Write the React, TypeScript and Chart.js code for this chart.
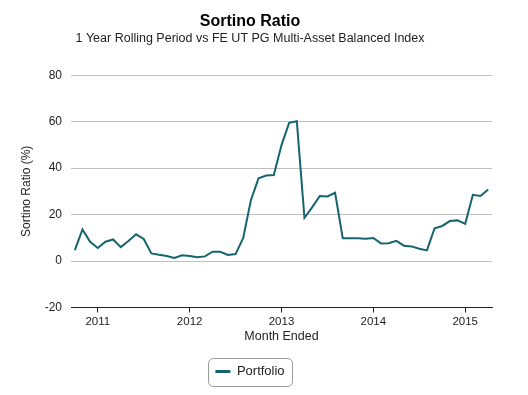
import React, { useEffect, useRef } from "react";
import { Chart, registerables } from "chart.js";

Chart.register(...registerables);

const chartTitle = "Sortino Ratio";
const chartSubtitle = "1 Year Rolling Period vs FE UT PG Multi-Asset Balanced Index";
const yAxisTitle = "Sortino Ratio (%)";
const xAxisTitle = "Month Ended";
const seriesName = "Portfolio";

const months: string[] = [
  "Oct 2010", "Nov 2010", "Dec 2010",
  "Jan 2011", "Feb 2011", "Mar 2011", "Apr 2011", "May 2011", "Jun 2011",
  "Jul 2011", "Aug 2011", "Sep 2011", "Oct 2011", "Nov 2011", "Dec 2011",
  "Jan 2012", "Feb 2012", "Mar 2012", "Apr 2012", "May 2012", "Jun 2012",
  "Jul 2012", "Aug 2012", "Sep 2012", "Oct 2012", "Nov 2012", "Dec 2012",
  "Jan 2013", "Feb 2013", "Mar 2013", "Apr 2013", "May 2013", "Jun 2013",
  "Jul 2013", "Aug 2013", "Sep 2013", "Oct 2013", "Nov 2013", "Dec 2013",
  "Jan 2014", "Feb 2014", "Mar 2014", "Apr 2014", "May 2014", "Jun 2014",
  "Jul 2014", "Aug 2014", "Sep 2014", "Oct 2014", "Nov 2014", "Dec 2014",
  "Jan 2015", "Feb 2015", "Mar 2015", "Apr 2015",
];

const portfolio: number[] = [
  4.7, 13.6, 8.3,
  5.6, 8.3, 9.3, 6.0, 8.6, 11.5, 9.5, 3.3, 2.7, 2.2, 1.3, 2.5,
  2.2, 1.6, 2.0, 4.0, 4.0, 2.6, 3.0, 10.0, 26.2, 35.6, 36.8, 37.0,
  49.9, 59.5, 60.2, 18.6, 23.1, 28.0, 27.8, 29.4, 9.8, 9.8, 9.8, 9.6,
  9.9, 7.6, 7.7, 8.7, 6.6, 6.3, 5.3, 4.6, 14.1, 15.1, 17.2, 17.5,
  16.0, 28.5, 28.0, 30.8,
];

const yMin = -20;
const yMax = 80;
const yStep = 20;

const FONT = "'Liberation Sans', Arial, sans-serif";
const LINE_COLOR = "#16646f";
const TEXT_COLOR = "#222";

const legendBorder = {
  id: "legendBorder",
  afterDraw(chart: any) {
    const legend = chart.legend;
    if (!legend || !legend.legendHitBoxes || !legend.legendHitBoxes.length) return;
    const hb = legend.legendHitBoxes[0];
    const ctx = chart.ctx;
    const x = Math.round(hb.left - 7.5) + 0.5;
    const y = Math.round(hb.top - 7.5) + 0.5;
    const w = Math.round(hb.width + 15);
    const h = Math.round(hb.height + 15);
    const r = 5;
    ctx.save();
    ctx.strokeStyle = "#999";
    ctx.lineWidth = 1;
    ctx.beginPath();
    ctx.moveTo(x + r, y);
    ctx.lineTo(x + w - r, y);
    ctx.arcTo(x + w, y, x + w, y + r, r);
    ctx.lineTo(x + w, y + h - r);
    ctx.arcTo(x + w, y + h, x + w - r, y + h, r);
    ctx.lineTo(x + r, y + h);
    ctx.arcTo(x, y + h, x, y + h - r, r);
    ctx.lineTo(x, y + r);
    ctx.arcTo(x, y, x + r, y, r);
    ctx.closePath();
    ctx.stroke();
    ctx.restore();
  },
};

export default function App() {
  const ref = useRef<HTMLCanvasElement | null>(null);

  useEffect(() => {
    if (!ref.current) return;
    Chart.defaults.font.family = FONT;
    const chart = new Chart(ref.current, {
      type: "line",
      data: {
        labels: months,
        datasets: [
          {
            label: seriesName,
            data: portfolio,
            borderColor: LINE_COLOR,
            backgroundColor: LINE_COLOR,
            borderWidth: 2,
            pointRadius: 0,
            pointHoverRadius: 0,
            tension: 0,
            fill: false,
          },
        ],
      },
      options: {
        responsive: false,
        animation: false,
        layout: { padding: { left: 8, right: 10, top: 0, bottom: 7 } },
        plugins: {
          title: {
            display: true,
            text: chartTitle,
            color: "#000",
            font: { size: 16, weight: "bold", family: FONT },
            padding: { top: 12, bottom: 0 },
          },
          subtitle: {
            display: true,
            text: chartSubtitle,
            color: TEXT_COLOR,
            font: { size: 12.5, family: FONT },
            padding: { top: 0, bottom: 29 },
          },
          legend: {
            display: true,
            position: "bottom",
            labels: {
              color: TEXT_COLOR,
              font: { size: 13, family: FONT },
              usePointStyle: true,
              pointStyle: "line",
              pointStyleWidth: 15,
              padding: 7.5,
              generateLabels(chart: any) {
                const items = Chart.defaults.plugins.legend.labels.generateLabels(chart);
                return items.map((it: any) => ({ ...it, lineWidth: 3, pointStyle: "line", strokeStyle: LINE_COLOR }));
              },
            },
          },
          tooltip: { enabled: false },
        },
        scales: {
          x: {
            type: "category",
            offset: true,
            afterFit(scale: any) {
              scale.height = 50;
            },
            grid: {
              offset: false,
              drawOnChartArea: false,
              drawTicks: true,
              tickLength: 5,
              tickColor: "#222",
            },
            border: { display: true, color: "#222", width: 1 },
            ticks: {
              autoSkip: false,
              maxRotation: 0,
              minRotation: 0,
              padding: 2,
              color: TEXT_COLOR,
              font: { size: 11.5, family: FONT },
              callback(this: any, value: any) {
                const lbl: string = this.getLabelForValue(value);
                if (lbl.startsWith("Jan")) return lbl.slice(4);
                return null;
              },
            },
            title: {
              display: true,
              text: xAxisTitle,
              color: TEXT_COLOR,
              font: { size: 12.5, family: FONT },
              padding: { top: 0, bottom: 13 },
            },
          },
          y: {
            min: yMin,
            max: yMax,
            afterFit(scale: any) {
              scale.width = 63;
            },
            grid: {
              drawTicks: false,
              color: (ctx: any) => (ctx.tick && ctx.tick.value === yMin ? "rgba(0,0,0,0)" : "#c0c0c0"),
              lineWidth: 1,
            },
            border: { display: false },
            ticks: {
              stepSize: yStep,
              padding: 9,
              color: TEXT_COLOR,
              font: { size: 12, family: FONT },
            },
            title: {
              display: true,
              text: yAxisTitle,
              color: TEXT_COLOR,
              font: { size: 12, family: FONT },
              padding: { top: 11, bottom: 0 },
            },
          },
        },
      },
      plugins: [legendBorder],
    } as any);
    return () => chart.destroy();
  }, []);

  return (
    <div style={{ position: "absolute", left: 0, top: 0, width: 502, height: 395, background: "#fff" }}>
      <canvas ref={ref} width={502} height={395} style={{ display: "block" }} />
    </div>
  );
}
